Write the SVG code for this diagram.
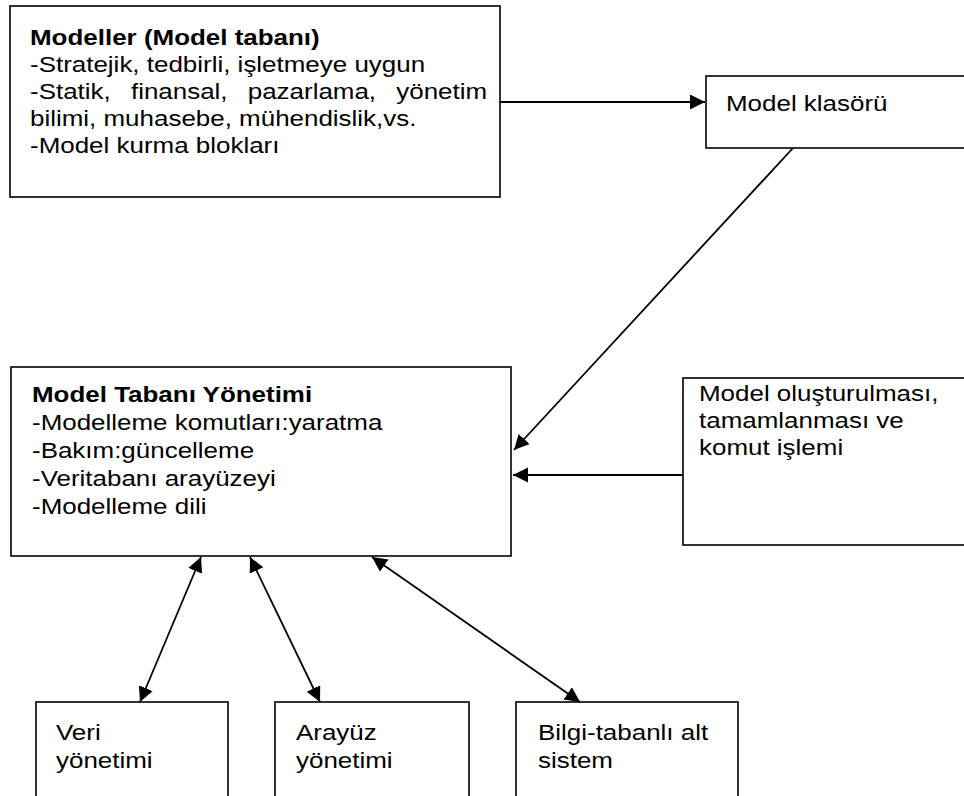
<svg xmlns="http://www.w3.org/2000/svg" width="964" height="796" viewBox="0 0 964 796">
  <defs>
    <style>
      .box { fill: #ffffff; stroke: #000000; stroke-width: 1.6; }
      .txt { font-family: "Liberation Sans", Arial, sans-serif; font-size: 22px; fill: #000000; }
      .bold { font-weight: bold; }
      .link { fill: none; stroke: #000000; stroke-width: 1.8; }
    </style>
    <marker id="head" markerUnits="userSpaceOnUse" markerWidth="16" markerHeight="16" viewBox="0 0 16 16" refX="15" refY="7.5" orient="auto-start-reverse">
      <path d="M0,0 L15,7.5 L0,15 Z" fill="#000000"/>
    </marker>
  </defs>

  <rect width="964" height="796" fill="#ffffff"/>

  <!-- Model base (text set slightly wide: 22px Arial metrics stretched 1.18x horizontally) -->
  <g id="modeller">
    <rect class="box" x="10" y="6" width="490" height="191"/>
    <g transform="translate(30 0) scale(1.18 1)">
      <text class="txt bold" x="0" y="45">Modeller (Model tabanı)</text>
      <text class="txt" x="0" y="72">-Stratejik, tedbirli, işletmeye uygun</text>
      <text class="txt" x="0" y="99" word-spacing="11">-Statik, finansal, pazarlama, yönetim</text>
      <text class="txt" x="0" y="126">bilimi, muhasebe, mühendislik,vs.</text>
      <text class="txt" x="0" y="153">-Model kurma blokları</text>
    </g>
  </g>

  <!-- Model folder -->
  <g id="model-klasoru">
    <rect class="box" x="706" y="76" width="270" height="72"/>
    <g transform="translate(726 0) scale(1.18 1)">
      <text class="txt" x="0" y="111.5">Model klasörü</text>
    </g>
  </g>

  <!-- Model base management -->
  <g id="model-tabani-yonetimi">
    <rect class="box" x="11" y="367" width="500" height="189"/>
    <g transform="translate(32 0) scale(1.18 1)">
      <text class="txt bold" x="0" y="402">Model Tabanı Yönetimi</text>
      <text class="txt" x="0" y="430">-Modelleme komutları:yaratma</text>
      <text class="txt" x="0" y="458">-Bakım:güncelleme</text>
      <text class="txt" x="0" y="486">-Veritabanı arayüzeyi</text>
      <text class="txt" x="0" y="514">-Modelleme dili</text>
    </g>
  </g>

  <!-- Model building / command processing -->
  <g id="model-olusturulmasi">
    <rect class="box" x="683" y="378" width="290" height="167"/>
    <g transform="translate(699 0) scale(1.18 1)">
      <text class="txt" x="0" y="401">Model oluşturulması,</text>
      <text class="txt" x="0" y="428">tamamlanması ve</text>
      <text class="txt" x="0" y="455">komut işlemi</text>
    </g>
  </g>

  <!-- Subsystems -->
  <g id="veri-yonetimi">
    <rect class="box" x="36" y="702" width="192" height="110"/>
    <g transform="translate(56 0) scale(1.18 1)">
      <text class="txt" x="0" y="740">Veri</text>
      <text class="txt" x="0" y="768">yönetimi</text>
    </g>
  </g>

  <g id="arayuz-yonetimi">
    <rect class="box" x="275" y="702" width="194" height="110"/>
    <g transform="translate(296 0) scale(1.18 1)">
      <text class="txt" x="0" y="740">Arayüz</text>
      <text class="txt" x="0" y="768">yönetimi</text>
    </g>
  </g>

  <g id="bilgi-tabanli">
    <rect class="box" x="516" y="702" width="222" height="110"/>
    <g transform="translate(538 0) scale(1.18 1)">
      <text class="txt" x="0" y="740">Bilgi-tabanlı alt</text>
      <text class="txt" x="0" y="768">sistem</text>
    </g>
  </g>

  <!-- Connectors -->
  <g id="connectors">
    <line class="link" x1="500" y1="102" x2="705" y2="102" marker-end="url(#head)"/>
    <line class="link" x1="793" y1="148" x2="514" y2="450" marker-end="url(#head)"/>
    <line class="link" x1="683" y1="475" x2="513" y2="475" marker-end="url(#head)"/>
    <line class="link" x1="201" y1="557" x2="140" y2="702" marker-start="url(#head)" marker-end="url(#head)"/>
    <line class="link" x1="250" y1="557" x2="320" y2="702" marker-start="url(#head)" marker-end="url(#head)"/>
    <line class="link" x1="372" y1="557" x2="580" y2="702" marker-start="url(#head)" marker-end="url(#head)"/>
  </g>
</svg>
